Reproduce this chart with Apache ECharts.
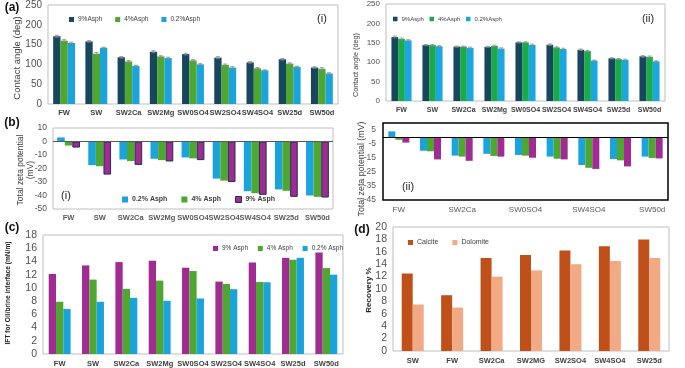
<!DOCTYPE html>
<html><head><meta charset="utf-8">
<script src="https://cdn.jsdelivr.net/npm/echarts@6/dist/echarts.min.js"></script>
<style>html,body{margin:0;padding:0;background:#fff}#c{width:685px;height:368px}</style>
</head><body><div id="c"></div>
<script>
// ---------- data ----------
const catsA = ['FW','SW','SW2Ca','SW2Mg','SW0SO4','SW2SO4','SW4SO4','SW25d','SW50d'];
const catsD = ['SW','FW','SW2Ca','SW2MG','SW2SO4','SW4SO4','SW25d'];
// (a)(i) contact angle
const caI_9  = [171,158,118,132,126,117,105,113,92];
const caI_4  = [160,127,107.5,120,110,99,90,102,89];
const caI_02 = [154,142,96.5,116,100,92,85,94,77];
const caI_err9  = [2.5,2,2,2.5,2,2.5,2,2,2];
const caI_err4  = [2.5,3,2.5,2,2,2,2,2,3];
const caI_err02 = [2,1.5,1.5,2,2,2,1.5,1.5,2];
// (a)(ii) contact angle
const caII_9  = [165,144,140,139.5,151,145,132,110,115];
const caII_4  = [160,144,140,142,151,138,128.5,108,114];
const caII_02 = [156,141,137,135,144.5,134,104,106,102];
const caII_err9  = [2.5,1.5,1.5,1.5,1.5,2,2,1.5,2];
const caII_err4  = [2,1.5,1.5,2,1.5,1.5,2,1.5,2];
const caII_err02 = [2,1.5,2,2,2,2,1.5,2,1.5];
// (b)(i) zeta potential
const zpI_02 = [3,-17.5,-13.3,-12.8,-11.8,-27.5,-36.8,-35.5,-40];
const zpI_4  = [-3,-18.3,-14.5,-13.8,-12.5,-29,-38.3,-36.5,-41];
const zpI_9  = [-4.5,-24.5,-17.3,-14.8,-13.8,-30,-39.5,-41,-41.5];
// (b)(ii) zeta potential
const zpII_02 = [4,-9.8,-13.3,-12,-12.8,-14,-20,-15.7,-14];
const zpII_4  = [-2,-10.2,-14,-13.5,-13.3,-15.5,-22,-16.7,-15];
const zpII_9  = [-4,-16,-17,-14,-14.8,-16,-22.8,-21,-15.3];
// (c) IFT
const ift9  = [12.1,13.4,13.9,14.1,13.05,10.95,13.85,14.55,15.35];
const ift4  = [7.9,11.25,9.85,11.1,12.55,10.6,10.9,14.25,13];
const ift02 = [6.8,7.9,8.5,8.05,8.4,9.8,10.85,14.55,12];
// (d) recovery
const calcite  = [12.5,9,15,15.5,16.2,16.9,18];
const dolomite = [7.5,7,12,13,14,14.5,15];

// ---------- styles ----------
const FF = 'Liberation Sans, Arial, sans-serif';
const NAVY='#17475c', GREEN='#4ea72e', BLUE='#1ba3dc', PURPLE='#a02b93';
const NAVY2='#17465e', GREEN2='#19ab4a', BLUE2='#1aa7e1';
const CALC='#c0501a', DOLO='#f2aa84';
const TXT='#404040';

const grids = [
  {left:48, top:5, width:290, height:99, show:true, borderColor:'#bfbfbf', borderWidth:1},     // a-i
  {left:386, top:3, width:279, height:98, show:true, borderColor:'#bfbfbf', borderWidth:1},    // a-ii
  {left:53, top:128, width:280, height:81, show:true, borderColor:'#bfbfbf', borderWidth:1},   // b-i
  {left:383, top:123, width:285, height:77, show:true, borderColor:'#000', borderWidth:1.5},   // b-ii
  {left:43, top:235, width:300, height:120, show:true, borderColor:'#bfbfbf', borderWidth:1},  // c
  {left:393, top:227, width:276, height:124, show:true, borderColor:'#bfbfbf', borderWidth:1}  // d
];

function xAx(gi, data, opt) {
  return Object.assign({
    type:'category', gridIndex:gi, data:data, position:'bottom',
    axisTick:{show:false},
    axisLine:{show:false, onZero:false},
    axisLabel:{fontFamily:FF, fontWeight:'bold', fontSize:7.5, color:TXT, margin:5, interval:0}
  }, opt || {});
}
function yAx(gi, min, max, interval, fs, extra) {
  return Object.assign({
    type:'value', gridIndex:gi, min:min, max:max, interval:interval,
    splitLine:{show:false}, axisTick:{show:false}, axisLine:{show:false},
    axisLabel:{fontFamily:FF, fontSize:fs, color:'#505050', margin:6}
  }, extra || {});
}
function bar(name, data, gi, color, w, extra) {
  return Object.assign({
    type:'bar', name:name, data:data, xAxisIndex:gi, yAxisIndex:gi,
    barWidth:w, barGap:'0%', itemStyle:{color:color}, animation:false
  }, extra || {});
}
function zeroLine(color) {
  return {silent:true, symbol:'none', label:{show:false}, animation:false,
          lineStyle:{color:color, width:1, type:'solid'}, data:[{yAxis:0}]};
}
// error bars drawn through the axes' own scale
function errBars(gi, vals, errs, k, n, bw) {
  return {
    type:'custom', xAxisIndex:gi, yAxisIndex:gi, silent:true, animation:false, z:5,
    encode:{x:0, y:1},
    data: vals.map((v, i) => [i, v, errs[i]]),
    renderItem: (params, api) => {
      const i = api.value(0), v = api.value(1), e = api.value(2);
      const top = api.coord([i, v + e]), bot = api.coord([i, v - e]);
      const x = top[0] + (k - (n - 1) / 2) * bw;
      const c = 2;
      const st = {stroke:'#8a8a8a', lineWidth:0.8};
      return {type:'group', children:[
        {type:'line', shape:{x1:x, y1:top[1], x2:x, y2:bot[1]}, style:st},
        {type:'line', shape:{x1:x - c, y1:top[1], x2:x + c, y2:top[1]}, style:st},
        {type:'line', shape:{x1:x - c, y1:bot[1], x2:x + c, y2:bot[1]}, style:st}
      ]};
    }
  };
}

const xAxes = [
  xAx(0, catsA),
  xAx(1, catsA, {axisLabel:{fontFamily:FF, fontWeight:'bold', fontSize:7, color:TXT, margin:6, interval:0}}),
  xAx(2, catsA, {axisLabel:{fontFamily:FF, fontWeight:'bold', fontSize:7.5, color:'#595959', margin:5, interval:0}}),
  xAx(3, catsA, {axisLabel:{fontFamily:FF, fontSize:8, color:'#595959', margin:6, interval:1}}),
  xAx(4, catsA, {axisLabel:{fontFamily:FF, fontWeight:'bold', fontSize:7.5, color:TXT, margin:6, interval:0}}),
  xAx(5, catsD, {axisLabel:{fontFamily:FF, fontWeight:'bold', fontSize:7.5, color:TXT, margin:6, interval:0}})
];
const yAxes = [
  yAx(0, 0, 250, 50, 10),
  yAx(1, 0, 250, 50, 8),
  yAx(2, -50, 10, 10, 8.5),
  yAx(3, -45, 10, 5, 8.5, {axisLabel:{fontFamily:FF, fontSize:8.5, color:'#595959', margin:7,
        formatter: v => (Math.round(v) % 10 !== 0 ? String(v) : '')}}),
  yAx(4, 0, 18, 2, 10.5),
  yAx(5, 0, 20, 2, 10.5)
];

const series = [
  bar('9%Asph', caI_9, 0, NAVY, 7.3),
  bar('4%Asph', caI_4, 0, GREEN, 7.3),
  bar('0.2%Asph', caI_02, 0, BLUE, 7.3),
  errBars(0, caI_9, caI_err9, 0, 3, 7.3),
  errBars(0, caI_4, caI_err4, 1, 3, 7.3),
  errBars(0, caI_02, caI_err02, 2, 3, 7.3),
  bar('9%Asph ', caII_9, 1, NAVY2, 6.7),
  bar('4%Asph ', caII_4, 1, GREEN2, 6.7),
  bar('0.2%Asph ', caII_02, 1, BLUE2, 6.7),
  errBars(1, caII_9, caII_err9, 0, 3, 6.7),
  errBars(1, caII_4, caII_err4, 1, 3, 6.7),
  errBars(1, caII_02, caII_err02, 2, 3, 6.7),
  bar('0.2% Asph', zpI_02, 2, BLUE, 7.6, {markLine: zeroLine('#595959')}),
  bar('4% Asph', zpI_4, 2, GREEN, 7.6),
  bar('9% Asph', zpI_9, 2, PURPLE, 7.6, {itemStyle:{color:PURPLE, borderColor:'#1f3050', borderWidth:1}}),
  bar('0.2% Asph  ', zpII_02, 3, BLUE, 7, {markLine: zeroLine('#000')}),
  bar('4% Asph  ', zpII_4, 3, GREEN, 7),
  bar('9% Asph  ', zpII_9, 3, PURPLE, 7),
  bar('9% Asph ', ift9, 4, PURPLE, 7.3),
  bar('4% Asph ', ift4, 4, GREEN, 7.3),
  bar('0.2% Asph ', ift02, 4, BLUE, 7.3),
  bar('Calcite', calcite, 5, CALC, 11),
  bar('Dolomite', dolomite, 5, DOLO, 11)
];

function leg(left, top, names, fs, gap, icon, extra) {
  return Object.assign({
    left:left, top:top, orient:'horizontal', itemWidth:icon, itemHeight:icon, itemGap:gap,
    icon:'rect', selectedMode:false,
    textStyle:{fontFamily:FF, fontSize:fs, color:TXT, padding:[0,0,0,-1]},
    data:names, padding:0
  }, extra || {});
}
const legends = [
  leg(69, 16, ['9%Asph','4%Asph','0.2%Asph'], 6.5, 13, 5),
  leg(393, 16, ['9%Asph ','4%Asph ','0.2%Asph '], 6, 4, 4.5),
  leg(122, 196, ['0.2% Asph','4% Asph',
      {name:'9% Asph', itemStyle:{color:PURPLE, borderColor:'#1f3050', borderWidth:1}}], 7, 14, 6,
      {textStyle:{fontFamily:FF, fontSize:7, color:TXT, fontWeight:'bold', padding:[0,0,0,-1]}}),
  leg(213, 245, ['9% Asph ','4% Asph ','0.2% Asph '], 6.5, 8, 5),
  leg(408, 239, ['Calcite','Dolomite'], 7, 14, 5)
];

function txt(x, y, s, fs, opt) {
  return {type:'text', x:x, y:y, silent:true, rotation:(opt && opt.rot) || 0,
    style:{text:s, fontFamily:FF, fontSize:fs, fontWeight:(opt && opt.bold) ? 'bold' : 'normal',
      fill:(opt && opt.color) || '#262626', textAlign:'center', textVerticalAlign:'middle',
      lineHeight:(opt && opt.lh) || fs*1.15}};
}
const R = Math.PI/2;
const graphics = [
  txt(12, 8, '(a)', 12, {bold:true, color:'#111'}),
  txt(12, 123, '(b)', 12, {bold:true, color:'#111'}),
  txt(12, 228, '(c)', 12, {bold:true, color:'#111'}),
  txt(362, 230, '(d)', 12, {bold:true, color:'#111'}),
  txt(322, 19, '(i)', 11),
  txt(648, 19, '(ii)', 11),
  txt(66, 196, '(i)', 11),
  txt(408, 187, '(ii)', 11),
  txt(17, 58, 'Contact angle (deg)', 9.5, {rot:R, color:'#404040'}),
  txt(356, 65, 'Contact angle (deg)', 7.3, {rot:R, color:'#404040'}),
  txt(26, 170, 'Total zeta potential\n(mV)', 8.5, {rot:R, color:'#404040', lh:10}),
  txt(362, 169, 'Total zeta potential (mV)', 8.8, {rot:R, color:'#404040'}),
  txt(8, 293, 'IFT for Oil/brine interface (mN/m)', 6.6, {rot:R, bold:true, color:'#262626'}),
  txt(369, 290, 'Recovery %', 8, {rot:R, bold:true, color:'#262626'})
];

const chart = echarts.init(document.getElementById('c'), null, {renderer:'canvas'});
chart.setOption({
  animation:false,
  backgroundColor:'#fff',
  grid:grids, xAxis:xAxes, yAxis:yAxes, series:series, legend:legends, graphic:graphics
});
</script>
</body></html>
